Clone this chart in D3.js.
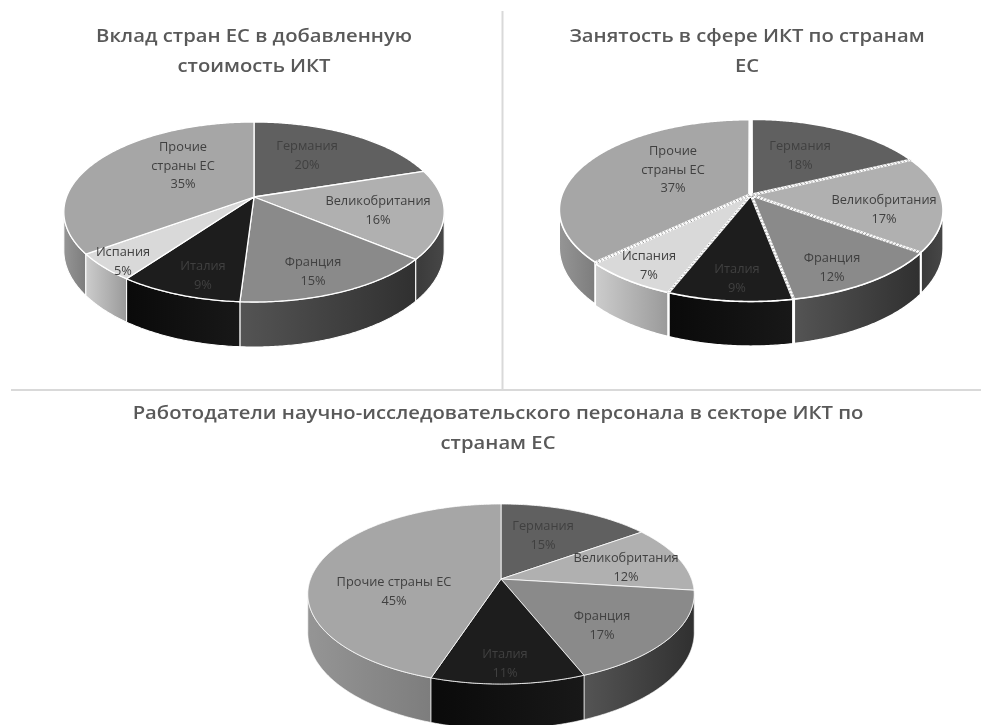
<!DOCTYPE html>
<html><head><meta charset="utf-8">
<script src="https://cdn.jsdelivr.net/npm/d3@7/dist/d3.min.js"></script>
<style>html,body{margin:0;padding:0;background:#fff;overflow:hidden}
svg{display:block;filter:blur(0.4px)}
text{font-family:"Open Sans",sans-serif}</style></head><body>
<svg id="c" width="981" height="725"></svg>
<script>
// Data
const categoriesA = ["Германия","Великобритания","Франция","Италия","Испания","Прочие страны ЕС"];
const categoriesC = ["Германия","Великобритания","Франция","Италия","Прочие страны ЕС"];
const valueAdded = [20,16,15,9,5,35];
const employment = [18,17,12,9,7,37];
const researchers = [15,12,17,11,45];
const titleA = ["Вклад стран ЕС в добавленную","стоимость ИКТ"];
const titleB = ["Занятость в сфере ИКТ по странам","ЕС"];
const titleC = ["Работодатели научно-исследовательского персонала в секторе ИКТ по","странам ЕС"];

// Styles per category
const topColor = {"Германия":"#606060","Великобритания":"#b0b0b0","Франция":"#8a8a8a","Италия":"#1d1d1d","Испания":"#d9d9d9","Прочие страны ЕС":"#a6a6a6"};
const sideColor = {"Германия":["#303030","#303030"],"Великобритания":["#3a3a3a","#474747"],"Франция":["#545454","#303030"],"Италия":["#0a0a0a","#181818"],"Испания":["#cccccc","#9a9a9a"],"Прочие страны ЕС":["#959595","#7d7d7d"]};

// Layout: label blocks [x centre, first line y, lines]
const layoutA = {cx:254,cy:197,rx:187.5,ry:87.5,d:37.5,explode:0,stroke:1.3,dotted:false,titleX:254,titleY:[42,72],
  labels:[[307,147,["Германия"]],[378,202,["Великобритания"]],[313,263,["Франция"]],[203,267,["Италия"]],[123,253,["Испания"]],[183,148,["Прочие","страны ЕС"]]]};
const layoutB = {cx:751,cy:195,rx:187,ry:87.5,d:37,explode:0.012,stroke:1.6,dotted:true,titleX:747,titleY:[42,72],
  labels:[[800,147,["Германия"]],[884,201,["Великобритания"]],[832,259,["Франция"]],[737,270,["Италия"]],[649,257,["Испания"]],[673,152,["Прочие","страны ЕС"]]]};
const layoutC = {cx:501,cy:579,rx:190.5,ry:87.5,d:37.5,explode:0,stroke:0.8,dotted:false,titleX:498,titleY:[419,449],
  labels:[[543,527,["Германия"]],[626,559,["Великобритания"]],[602,617,["Франция"]],[505,655,["Италия"]],[394,583,["Прочие страны ЕС"]]]};

const TITLE_SIZE = 18, TITLE_STRETCH = 1.125;

const svg = d3.select("#c");
const defs = svg.append("defs");
const K = 1/6, TAU = Math.PI*2, SIL = Math.acos(-K);
let gid = 0;

function draw(cats, vals, title, L){
  const project = (a, r, e, mid) => {
    const u = r*Math.sin(a)+e*Math.sin(mid), v = r*Math.cos(a)+e*Math.cos(mid), w = 1+K*v;
    return {x:L.cx+L.rx*u/w, y:L.cy-L.ry*v/w, w};
  };
  const arcs = d3.pie().sort(null).startAngle(0).endAngle(TAU)(vals);
  const line = d3.line().x(p=>p.x).y(p=>p.y);
  const g = svg.append("g");
  const pts = (a0,a1,e,mid)=>{const n=Math.max(2,Math.ceil((a1-a0)/0.01));return d3.range(n+1).map(i=>project(a0+(a1-a0)*i/n,1,e,mid));};

  // sides, back-to-front by distance from the bottom of the pie
  const order = arcs.slice().sort((a,b)=>Math.abs((b.startAngle+b.endAngle)/2-Math.PI)-Math.abs((a.startAngle+a.endAngle)/2-Math.PI));
  order.forEach(s=>{
    const a0=Math.max(s.startAngle,SIL), a1=Math.min(s.endAngle,TAU-SIL);
    if(a1<=a0) return;
    const mid=(s.startAngle+s.endAngle)/2, e=L.explode;
    const t=pts(a0,a1,e,mid), b=t.map(p=>({x:p.x,y:p.y+L.d/p.w})).reverse();
    const id="g"+(gid++), cat=cats[s.index];
    const xs=d3.extent(t,p=>p.x);
    const gr=defs.append("linearGradient").attr("id",id).attr("gradientUnits","userSpaceOnUse")
      .attr("x1",xs[0]).attr("x2",xs[1]).attr("y1",0).attr("y2",0);
    gr.append("stop").attr("offset",0).attr("stop-color",sideColor[cat][0]);
    gr.append("stop").attr("offset",1).attr("stop-color",sideColor[cat][1]);
    g.append("path").attr("d",line(t.concat(b))+"Z").attr("fill",`url(#${id})`)
      .attr("stroke","#fff").attr("stroke-width",L.stroke*0.8);
  });
  // top faces
  arcs.forEach(s=>{
    const mid=(s.startAngle+s.endAngle)/2, e=L.explode;
    const c=project(0,0,e,mid);
    const t=pts(s.startAngle,s.endAngle,e,mid);
    g.append("path").attr("d",line([c].concat(t))+"Z").attr("fill",topColor[cats[s.index]])
      .attr("stroke","#fff").attr("stroke-width",L.stroke).attr("stroke-linejoin","round");
    if(L.dotted){
      // the seam at twelve o'clock stays a clean gap
      const seams=[];
      if(s.startAngle>0.001) seams.push(t[0]);
      if(s.endAngle<TAU-0.001) seams.push(t[t.length-1]);
      seams.forEach(p=>{
        g.append("path").attr("d",line([c,p])).attr("stroke","#8f8f8f").attr("stroke-width",0.9)
          .attr("stroke-dasharray","1.5 2").attr("fill","none");
      });
    }
  });
  // labels
  arcs.forEach((s,i)=>{
    const [x,y,lines]=L.labels[i];
    const all=lines.concat([s.value+"%"]);
    g.selectAll(null).data(all).enter().append("text")
      .attr("x",x).attr("y",(d,j)=>y+j*18.5).attr("text-anchor","middle").attr("dominant-baseline","middle")
      .attr("font-size",12.8).attr("fill","#404040").text(d=>d);
  });
  // title
  svg.selectAll(null).data(title).enter().append("text")
    .attr("transform",(d,i)=>`translate(${L.titleX},${L.titleY[i]}) scale(${TITLE_STRETCH},1)`)
    .attr("text-anchor","middle")
    .attr("font-size",TITLE_SIZE).attr("font-weight",600).attr("fill","#595959").text(d=>d);
}

svg.append("line").attr("x1",502.5).attr("x2",502.5).attr("y1",11).attr("y2",390).attr("stroke","#d9d9d9").attr("stroke-width",2);
svg.append("line").attr("x1",11).attr("x2",981).attr("y1",390).attr("y2",390).attr("stroke","#d9d9d9").attr("stroke-width",2);

draw(categoriesA, valueAdded, titleA, layoutA);
draw(categoriesA, employment, titleB, layoutB);
draw(categoriesC, researchers, titleC, layoutC);
</script></body></html>
